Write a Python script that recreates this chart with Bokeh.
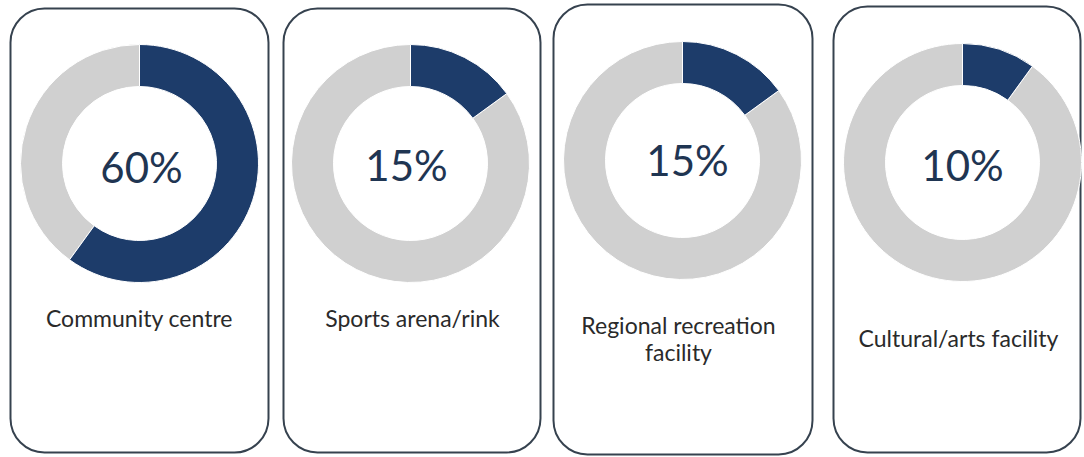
import math
from bokeh.plotting import figure
from bokeh.models import Range1d, ColumnDataSource
from bokeh.core.properties import value
from bokeh.embed import file_html
from bokeh.resources import INLINE

# ---- data ----
categories = ["Community centre", "Sports arena/rink", "Regional recreation\nfacility", "Cultural/arts facility"]
values = [60, 15, 15, 10]

# ---- layout (image pixel coordinates) ----
W, H = 1084, 457
box_left = [10, 283, 553, 833]
box_right = [268, 540, 812, 1080]
box_top = [8, 8, 4, 6]
box_bottom = [452, 452, 454, 452]
cx = [139, 410, 682, 962]
cy = [163, 163, 160, 162]
pct_x = [141, 406, 687, 962]
pct_y = [166, 164, 159, 164]
lab_x = [139, 412, 678, 958]
lab_y = [317, 317, 338, 337]
R_OUT, R_IN = 119, 77

NAVY = "#1d3c6a"
GREY = "#d0d0d0"

p = figure(width=W, height=H, x_range=Range1d(0, W), y_range=Range1d(0, H),
           output_backend="svg", toolbar_location=None, min_border=0)
p.axis.visible = False
p.grid.visible = False
p.outline_line_color = None
p.background_fill_color = "white"
p.border_fill_color = "white"

fy = lambda ys: [H - y for y in ys]

# rounded panels
p.quad(left=box_left, right=box_right, top=fy(box_top), bottom=fy(box_bottom),
       border_radius=34, fill_color=None, line_color="#36424f", line_width=2)

frac = [v / 100 for v in values]
start = [math.pi / 2] * 4
end = [math.pi / 2 - 2 * math.pi * f for f in frac]
src = ColumnDataSource(dict(x=cx, y=fy(cy), start=start, end=end))

p.annular_wedge(x="x", y="y", inner_radius=R_IN, outer_radius=R_OUT,
                start_angle="start", end_angle="end", direction="anticlock",
                source=src, fill_color=GREY, line_color="white", line_width=1)
p.annular_wedge(x="x", y="y", inner_radius=R_IN, outer_radius=R_OUT,
                start_angle="start", end_angle="end", direction="clock",
                source=src, fill_color=NAVY, line_color="white", line_width=1)

p.text(x=pct_x, y=fy(pct_y), text=[f"{v}%" for v in values],
       text_align="center", text_baseline="middle",
       text_font=value("Lato"), text_font_size="42px", text_color="#1f3552")

p.text(x=lab_x, y=fy(lab_y), text=categories,
       text_align="center", text_baseline="middle", text_line_height=0.98,
       text_font=value("Lato"), text_font_size="23px", text_color="#2a2a2a")

open("out.html", "w").write(file_html(p, INLINE))
